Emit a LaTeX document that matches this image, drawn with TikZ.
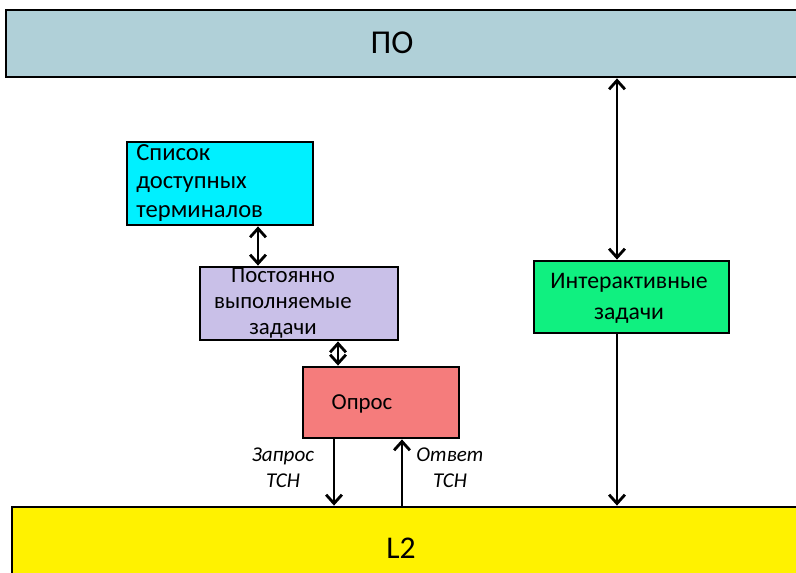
\documentclass[tikz,border=0pt]{standalone}
\usepackage{fontspec}
\setmainfont{Carlito}
\usetikzlibrary{arrows.meta}

\definecolor{poblue}{RGB}{176,208,216}
\definecolor{listcyan}{RGB}{0,240,255}
\definecolor{taskviolet}{RGB}{201,192,232}
\definecolor{pollred}{RGB}{245,124,124}
\definecolor{intgreen}{RGB}{16,240,128}
\definecolor{lyellow}{RGB}{255,242,0}

\begin{document}
\begin{tikzpicture}[x=0.02cm, y=-0.02cm,
  box/.style={draw=black, line width=1.6pt, inner sep=0pt},
  link/.style={line width=1.6pt},
  >={Straight Barb[length=5pt, width=9pt]}]

\clip (0,0) rectangle (796,573);

% ==== Layers ====
\node[box, fill=poblue, minimum width=16cm, minimum height=1.34cm] (po) at (406,43.5) {};
\node[font=\fontsize{19}{22}\selectfont] (potxt) at (392,43) {ПО};

\node[box, fill=lyellow, minimum width=16cm, minimum height=1.5cm] (l2) at (412,544.5) {};
\node[font=\fontsize{18}{21}\selectfont] (l2txt) at (401,548) {L2};

% ==== Blocks ====
\node[box, fill=listcyan, minimum width=3.72cm, minimum height=1.66cm] (list) at (220,183.5) {};
\node[anchor=west, align=left, inner sep=0pt, font=\fontsize{14}{16.5}\selectfont] (listtxt) at (136,183)
  {Список\\доступных\\терминалов};

\node[box, fill=taskviolet, minimum width=3.96cm, minimum height=1.46cm] (tasks) at (299,303.5) {};
\node[align=center, inner sep=0pt, font=\fontsize{13}{14.8}\selectfont] (taskstxt) at (283,303)
  {Постоянно\\выполняемые\\задачи};

\node[box, fill=pollred, minimum width=3.12cm, minimum height=1.42cm] (poll) at (381,402.5) {};
\node[font=\fontsize{13}{15}\selectfont] (polltxt) at (362,404) {Опрос};

\node[box, fill=intgreen, minimum width=3.9cm, minimum height=1.44cm] (inter) at (631.5,297) {};
\node[align=center, inner sep=0pt, font=\fontsize{13.5}{17.6}\selectfont] (intertxt) at (629,298)
  {Интерактивные\\задачи};

% ==== Connectors ====
\draw[link, <->] ([xshift=0.76cm]list.south) -- ([xshift=0.76cm]list.south |- tasks.north);
\draw[link, <->] ([xshift=-0.86cm]poll.north) -- ([xshift=-0.86cm]poll.north |- tasks.south);
\draw[link, ->] ([xshift=-0.94cm]poll.south) -- ([xshift=-0.94cm]poll.south |- l2.north);
\draw[link, ->] ([xshift=0.42cm]poll.south |- l2.north) -- ([xshift=0.42cm]poll.south);
\draw[link, <->] ([xshift=-0.29cm]inter.north |- po.south) -- ([xshift=-0.29cm]inter.north);
\draw[link, ->] ([xshift=-0.29cm]inter.south) -- ([xshift=-0.29cm]inter.south |- l2.north);

% Labels
\node[align=center, inner sep=0pt, font=\fontsize{12}{14.8}\selectfont\itshape] (reqlbl) at (283,468)
  {Запрос\\ТСН};
\node[align=center, inner sep=0pt, font=\fontsize{12}{14.8}\selectfont\itshape] (anslbl) at (450,468)
  {Ответ\\ТСН};

\end{tikzpicture}
\end{document}
